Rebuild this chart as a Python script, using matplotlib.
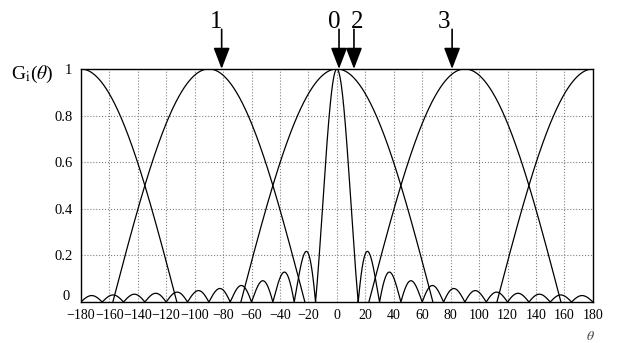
import numpy as np
import matplotlib
matplotlib.use('Agg')
import matplotlib.pyplot as plt
from matplotlib.transforms import ScaledTranslation

# 字体：Times 风格
plt.rcParams['font.family'] = ['Liberation Serif', 'DejaVu Serif']
plt.rcParams['mathtext.fontset'] = 'stix'

# 数据（从图中读取的波束参数）
wide_centres = [-180, -90, 0, 90, 180]   # 宽波束指向
wide_half_null = 67.5                    # 宽波束零点半宽
narrow_null_step = 15                    # 窄波束零点间隔
arrow_pos = [-81, 1.5, 12, 81]           # 箭头位置
arrow_text_pos = [-85, -1.5, 14, 75]
arrow_labels = ['1', '0', '2', '3']
x_ticks = list(range(-180, 181, 20))
y_ticks = [0, 0.2, 0.4, 0.6, 0.8, 1]
y_labels = ['0', '0.2', '0.4', '0.6', '0.8', '1']

theta = np.linspace(-180, 180, 3601)

fig = plt.figure(figsize=(6.17, 3.43), dpi=100)
ax = fig.add_axes([0.131, 0.1195, 0.830, 0.6795])

# 宽波束
for c in wide_centres:
    d = theta - c
    g = np.where(np.abs(d) < wide_half_null, np.cos(np.pi / 2 * d / wide_half_null), np.nan)
    ax.plot(theta, g, color='black', lw=0.9)

# 窄波束
ax.plot(theta, np.abs(np.sinc(theta / narrow_null_step)), color='black', lw=0.9)

ax.set_xlim(-180, 180)
ax.set_ylim(0, 1)
ax.set_xticks(x_ticks)
ax.set_yticks(y_ticks)
ax.set_yticklabels(y_labels)
ax.tick_params(axis='both', length=0, labelsize=10)
ax.tick_params(axis='y', pad=6, labelsize=10.5)
ax.tick_params(axis='x', pad=5)
ax.grid(True, linestyle=':', color='#808080', lw=0.8)
for s in ax.spines.values():
    s.set_linewidth(1.0)
    s.set_color('black')

# y 轴 "0" 稍微上移，避免与 x 轴标签重叠
fig.canvas.draw()
lab0 = ax.get_yticklabels()[0]
lab0.set_transform(lab0.get_transform() + ScaledTranslation(-2 / 72, 5 / 72, fig.dpi_scale_trans))

# 箭头与标注
for xp, xt, lab in zip(arrow_pos, arrow_text_pos, arrow_labels):
    ax.annotate('', xy=(xp, 1.0), xytext=(xp, 1.17), annotation_clip=False,
                arrowprops=dict(arrowstyle='-|>,head_length=0.65,head_width=0.25',
                                mutation_scale=20, color='black', lw=1.2,
                                shrinkA=0, shrinkB=0))
    ax.text(xt, 1.175, lab, ha='center', va='baseline', fontsize=18, clip_on=False)

fig.text(0.018, 1 - 74 / 343, r'G$_\mathrm{i}$($\theta$)', ha='left', va='center', fontsize=14)
fig.text(590 / 617, 1 - 336 / 343, r'$\theta$', ha='center', va='center', fontsize=10, color='#444444')

fig.savefig('out.png', dpi=100)
